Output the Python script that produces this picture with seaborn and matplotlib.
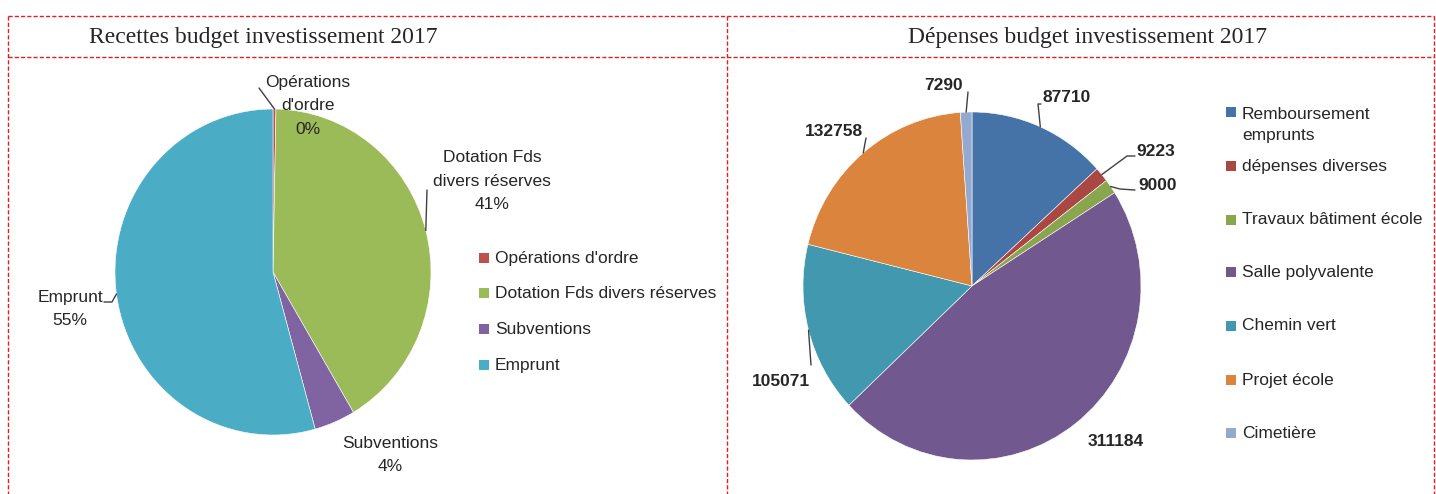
import numpy as np
import matplotlib
matplotlib.use("Agg")
import matplotlib.pyplot as plt
import seaborn as sns
from matplotlib.lines import Line2D
from matplotlib.patches import Rectangle

sns.set_style("white")
plt.rcParams['font.family'] = ['Liberation Sans Narrow', 'Liberation Sans', 'DejaVu Sans']

# ---------------- data ----------------
rec_title = "Recettes budget investissement 2017"
rec_labels = ["Opérations d'ordre", "Dotation Fds divers réserves", "Subventions", "Emprunt"]
rec_values = [0.3, 41.2, 4.2, 54.3]
rec_pct_text = ["0%", "41%", "4%", "55%"]
rec_colors = ["#C0504D", "#9BBB59", "#8064A2", "#4BACC6"]

dep_title = "Dépenses budget investissement 2017"
dep_labels = ["Remboursement\nemprunts", "dépenses diverses", "Travaux bâtiment école",
              "Salle polyvalente", "Chemin vert", "Projet école", "Cimetière"]
dep_values = [87710, 9223, 9000, 311184, 105071, 132758, 7290]
dep_colors = ["#4572A7", "#AA4643", "#89A54E", "#71588F", "#4198AF", "#DB843D", "#93A9CF"]

W, H = 1436, 494
fig = plt.figure(figsize=(W / 100, H / 100), dpi=100)
fig.patch.set_facecolor("white")


def fx(x):
    return x / W


def fy(y):
    return 1 - y / H


# ---------------- table borders ----------------
red = "#E02020"
dash = dict(color=red, lw=1.0, linestyle=(0, (3, 1.5)))
for (x0, y0, x1, y1) in [(8, 16, 1434, 16), (8, 57, 1434, 57),
                         (8, 16, 8, 494), (727, 16, 727, 494), (1434, 16, 1434, 494)]:
    fig.add_artist(Line2D([fx(x0), fx(x1)], [fy(y0), fy(y1)], transform=fig.transFigure, **dash))

fig.text(fx(263), fy(37), rec_title, ha="center", va="center", fontsize=17,
         family=["Liberation Serif", "DejaVu Serif"])
fig.text(fx(1088), fy(37), dep_title, ha="center", va="center", fontsize=17,
         family=["Liberation Serif", "DejaVu Serif"])


def make_pie_axes(cx, cy, rx, ry):
    ax = fig.add_axes([fx(cx - rx), fy(cy + ry), 2 * rx / W, 2 * ry / H])
    return ax


def edge_px(cx, cy, rx, ry, theta_deg, r=1.0):
    t = np.deg2rad(theta_deg)
    return cx + r * rx * np.sin(t), cy - r * ry * np.cos(t)


def mid_angles(values):
    v = np.asarray(values, float)
    cum = np.cumsum(v) / v.sum() * 360
    start = cum - v / v.sum() * 360
    return (start + cum) / 2


def line_px(pts, color="#404040"):
    xs = [fx(p[0]) for p in pts]
    ys = [fy(p[1]) for p in pts]
    fig.add_artist(Line2D(xs, ys, transform=fig.transFigure, color=color, lw=1.0))


lab_fs = 12.5

# ---------------- left pie ----------------
cxL, cyL, rxL, ryL = 273, 272, 158, 163
axL = make_pie_axes(cxL, cyL, rxL, ryL)
axL.pie(rec_values, colors=rec_colors, startangle=90, counterclock=False, radius=1,
        wedgeprops=dict(linewidth=0.4, edgecolor="white"))
axL.set_aspect("auto")
axL.set_xlim(-1, 1)
axL.set_ylim(-1, 1)
axL.axis("off")

midL = mid_angles(rec_values)
# label positions (pixel, centre of text block)
rec_label_pos = [(308, 106), (492, 181), (70, 309), (390, 455)]
rec_label_text = ["Opérations\nd'ordre\n0%", "Dotation Fds\ndivers réserves\n41%",
                  "Emprunt\n55%", "Subventions\n4%"]
for txt, (px, py) in zip(rec_label_text, rec_label_pos):
    fig.text(fx(px), fy(py), txt, ha="center", va="center", fontsize=lab_fs,
             linespacing=1.7, color="#262626")
# leader lines
e0 = edge_px(cxL, cyL, rxL, ryL, midL[0])
line_px([e0, (259, 88)])
e1 = edge_px(cxL, cyL, rxL, ryL, midL[1])
line_px([e1, (427, 190)])
e3 = edge_px(cxL, cyL, rxL, ryL, midL[3])
line_px([e3, (112, 302), (104, 302)])

# legend left
leg_y = [258, 293, 329, 365]
for lab, col, y in zip(rec_labels, rec_colors, leg_y):
    fig.add_artist(Rectangle((fx(479), fy(y + 5)), 10 / W, 10 / H, transform=fig.transFigure,
                             facecolor=col, edgecolor="none"))
    fig.text(fx(495), fy(y), lab, ha="left", va="center", fontsize=lab_fs, color="#262626")

# ---------------- right pie ----------------
cxR, cyR, rxR, ryR = 972, 286, 169, 174
axR = make_pie_axes(cxR, cyR, rxR, ryR)
axR.pie(dep_values, colors=dep_colors, startangle=90, counterclock=False, radius=1,
        wedgeprops=dict(linewidth=0.4, edgecolor="white"))
axR.set_aspect("auto")
axR.set_xlim(-1, 1)
axR.set_ylim(-1, 1)
axR.axis("off")

midR = mid_angles(dep_values)
dep_label_pos = [(1067, 98), (1156, 151), (1158, 186), (1116, 441), (781, 381), (834, 131), (944, 86)]
for v, (px, py) in zip(dep_values, dep_label_pos):
    fig.text(fx(px), fy(py), f"{v}", ha="center", va="center", fontsize=lab_fs,
             fontweight="bold", color="#262626")

line_px([edge_px(cxR, cyR, rxR, ryR, midR[0]), (1038, 104), (1041, 104)])
line_px([edge_px(cxR, cyR, rxR, ryR, midR[1]), (1127, 156), (1135, 156)])
line_px([edge_px(cxR, cyR, rxR, ryR, midR[2]), (1120, 189), (1135, 190)])
line_px([edge_px(cxR, cyR, rxR, ryR, midR[4]), (811, 365)])
line_px([edge_px(cxR, cyR, rxR, ryR, midR[5]), (866, 138)])
line_px([edge_px(cxR, cyR, rxR, ryR, midR[6]), (968, 92)])

# legend right
leg_yR = [112, 166, 220, 272, 326, 380, 433]
for lab, col, y in zip(dep_labels, dep_colors, leg_yR):
    fig.add_artist(Rectangle((fx(1226), fy(y + 5)), 10 / W, 10 / H, transform=fig.transFigure,
                             facecolor=col, edgecolor="none"))
    if "\n" in lab:
        fig.text(fx(1242), fy(y + 13), lab, ha="left", va="center",
                 fontsize=lab_fs, color="#262626", linespacing=1.5)
    else:
        fig.text(fx(1242), fy(y), lab, ha="left", va="center",
                 fontsize=lab_fs, color="#262626")

fig.savefig("out.png", dpi=100, facecolor="white")
